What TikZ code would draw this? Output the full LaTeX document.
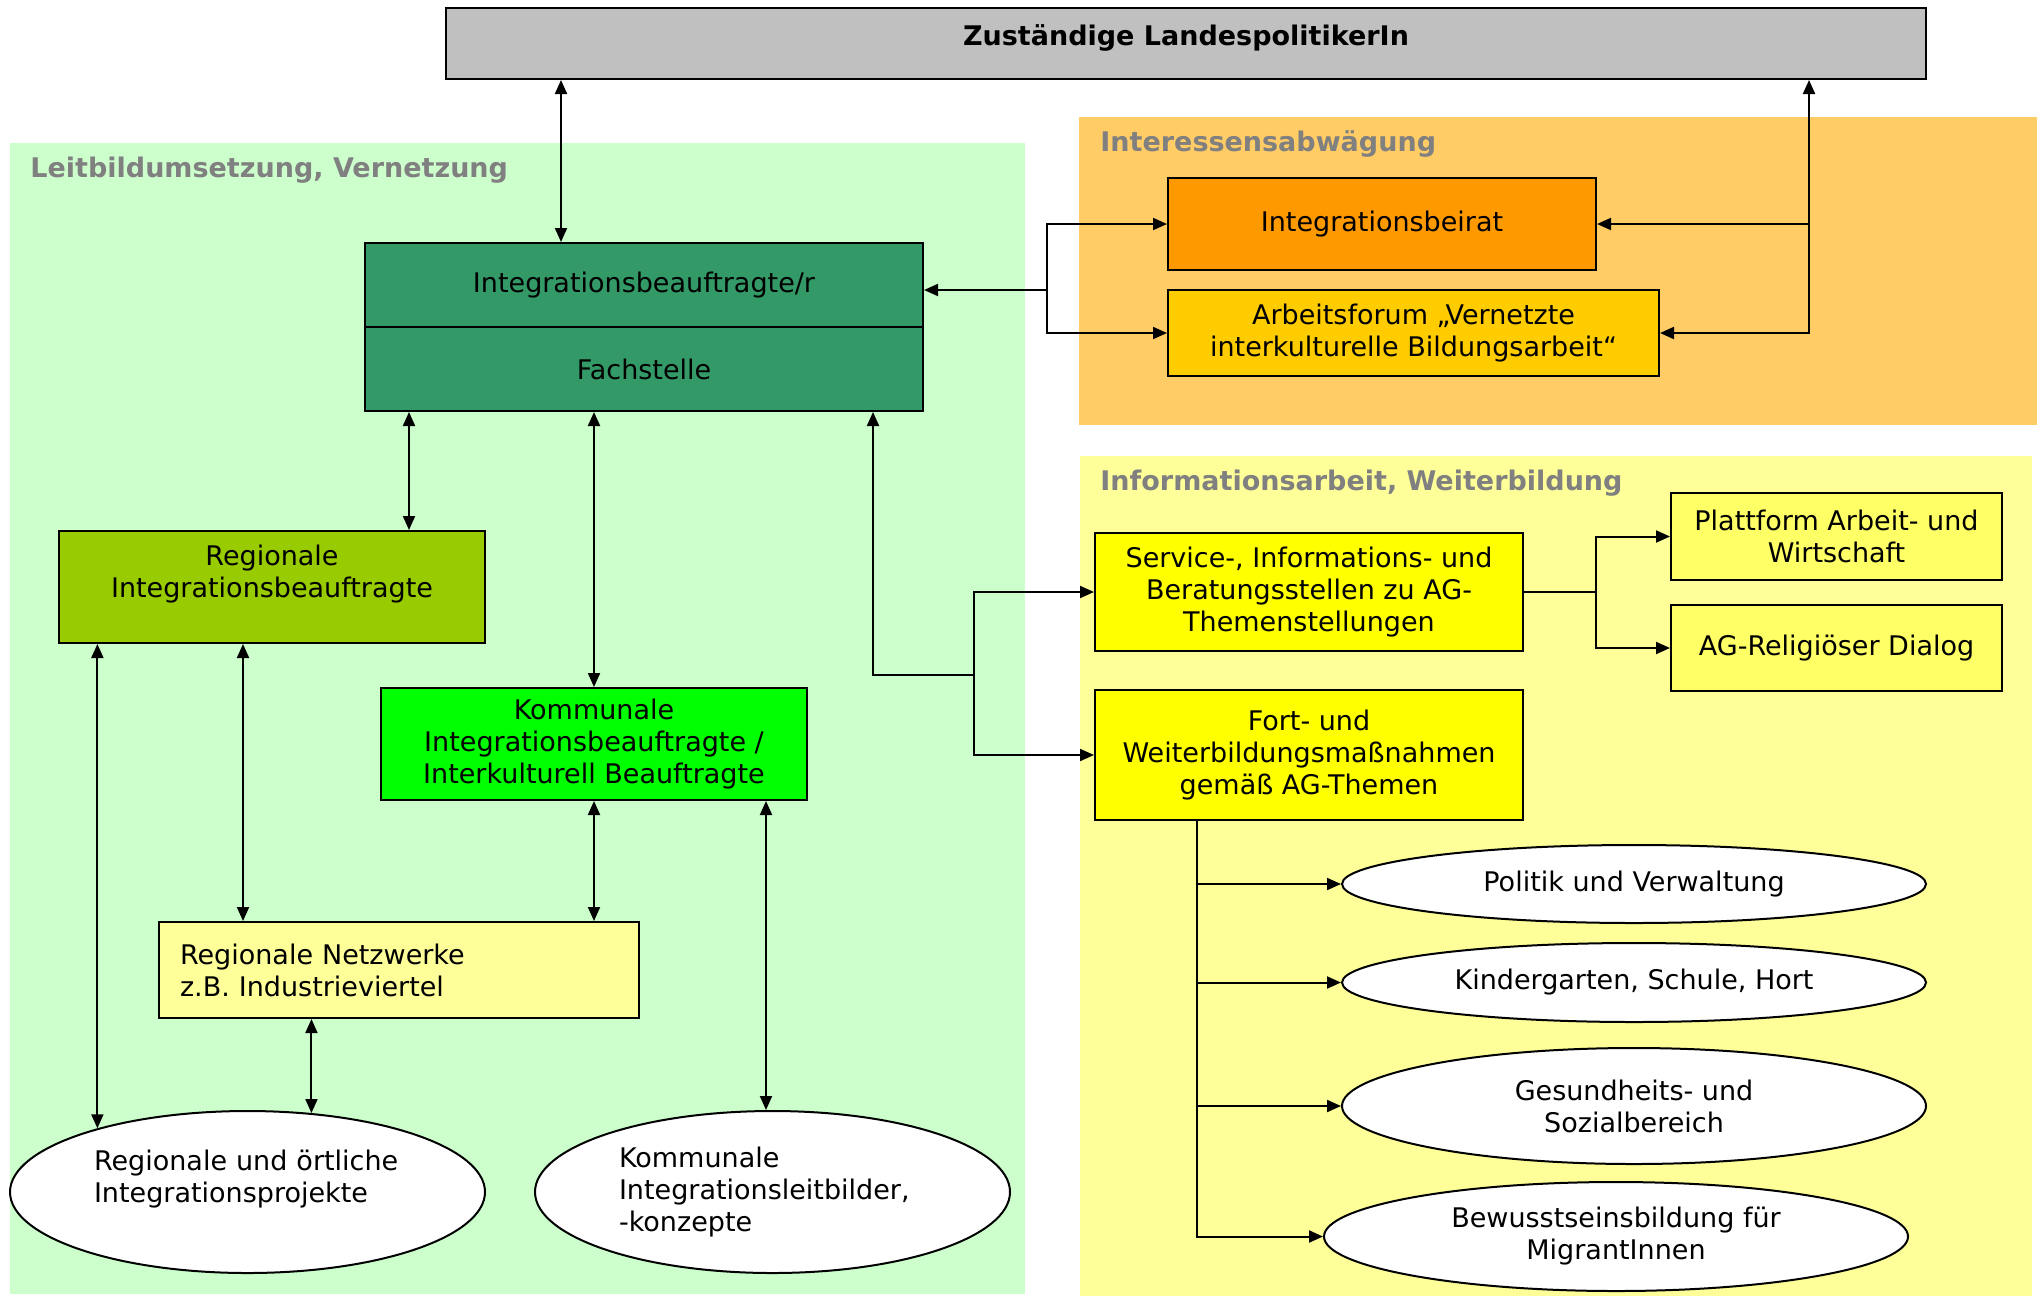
\documentclass[tikz,border=0pt]{standalone}
\usepackage{fontspec}
\setmainfont{DejaVu Sans}
\usepackage{tikz}
\usetikzlibrary{arrows.meta,shapes}
\definecolor{grau}{HTML}{C0C0C0}
\definecolor{titelgrau}{HTML}{808080}
\definecolor{hellgruen}{HTML}{CCFFCC}
\definecolor{dunkelgruen}{HTML}{339966}
\definecolor{olivgruen}{HTML}{99CC00}
\definecolor{knallgruen}{HTML}{00FF00}
\definecolor{hellgelb}{HTML}{FFFF99}
\definecolor{mittelgelb}{HTML}{FFFF66}
\definecolor{gelb}{HTML}{FFFF00}
\definecolor{hellorange}{HTML}{FFCC66}
\definecolor{beiratorange}{HTML}{FF9900}
\definecolor{forumgelb}{HTML}{FFCC00}
\tikzstyle{box} = [rectangle,draw,line width=1pt,inner sep=0pt,align=center,font=\fontsize{13.5}{16}\selectfont]
\tikzstyle{oval} = [ellipse,draw,line width=1pt,fill=white,inner sep=0pt,align=center,font=\fontsize{13.5}{16}\selectfont]
\tikzstyle{areatitle} = [anchor=west,inner sep=0pt,text=titelgrau,font=\bfseries\fontsize{13.5}{16}\selectfont]
\tikzstyle{edge} = [draw,line width=1pt,-{Triangle[length=7pt,width=6pt]}]
\tikzstyle{twowayedge} = [draw,line width=1pt,{Triangle[length=7pt,width=6pt]}-{Triangle[length=7pt,width=6pt]}]
\tikzstyle{plainedge} = [draw,line width=1pt]

\begin{document}
\begin{tikzpicture}[x=0.5pt,y=-0.5pt]
    \useasboundingbox (0,0) rectangle (2037,1296);
    % First we draw the coloured areas and their titles
    \fill[hellgruen] (10,143) rectangle (1025,1294);
    \fill[hellorange] (1079,117) rectangle (2037,425);
    \fill[hellgelb] (1080,456) rectangle (2032,1296);
    \node[areatitle] (leitbildtitel) at (30,170) {Leitbildumsetzung, Vernetzung};
    \node[areatitle] (abwaegungtitel) at (1100,144) {Interessensabwägung};
    \node[areatitle] (infotitel) at (1100,483) {Informationsarbeit, Weiterbildung};

    % Then the boxes
    \node[box,fill=grau,minimum width=740pt,minimum height=35.5pt,text depth=8.5pt,
          font=\bfseries\fontsize{13.5}{16}\selectfont] (landes) at (1186,43.5) {Zuständige LandespolitikerIn};
    \node[box,fill=dunkelgruen,minimum width=279pt,minimum height=42pt] (intb) at (644,285) {Integrationsbeauftragte/r};
    \node[box,fill=dunkelgruen,minimum width=279pt,minimum height=42pt] (fach) at (644,369) {Fachstelle};
    \node[box,fill=olivgruen,minimum width=213pt,minimum height=56pt] (regional) at (272,587) {Regionale\\Integrationsbeauftragte\\ \mbox{}};
    \node[box,fill=knallgruen,minimum width=213pt,minimum height=56pt] (kommunal) at (594,744) {Kommunale\\Integrationsbeauftragte /\\Interkulturell Beauftragte};
    \node[box,fill=hellgelb,align=left,text width=219pt,inner xsep=10.5pt,minimum height=48pt] (netzwerk) at (399,970) {Regionale Netzwerke\\z.B. Industrieviertel};
    \node[oval,align=left,text width=153.5pt,minimum width=237.5pt,minimum height=81pt] (projekte) at (247.5,1192) {Regionale und örtliche\\Integrationsprojekte\\ \mbox{}};
    \node[oval,align=left,text width=153.5pt,minimum width=237.5pt,minimum height=81pt] (leitbilder) at (772.5,1192) {Kommunale\\Integrationsleitbilder,\\-konzepte};

    \node[box,fill=beiratorange,minimum width=214pt,minimum height=46pt] (beirat) at (1382,224) {Integrationsbeirat};
    \node[box,fill=forumgelb,minimum width=245.5pt,minimum height=43pt] (forum) at (1413.5,333) {Arbeitsforum „Vernetzte\\interkulturelle Bildungsarbeit“};

    \node[box,fill=gelb,minimum width=214pt,minimum height=59pt] (service) at (1309,592) {Service-, Informations- und\\Beratungsstellen zu AG-\\Themenstellungen};
    \node[box,fill=gelb,minimum width=214pt,minimum height=65pt] (fort) at (1309,755) {Fort- und\\Weiterbildungsmaßnahmen\\gemäß AG-Themen};
    \node[box,fill=mittelgelb,minimum width=165.5pt,minimum height=43.5pt] (plattform) at (1836.5,536.5) {Plattform Arbeit- und\\Wirtschaft};
    \node[box,fill=mittelgelb,minimum width=165.5pt,minimum height=43pt] (religion) at (1836.5,648) {AG-Religiöser Dialog};

    \foreach \pos/\name/\hoehe/\text in {{(1634,884)/verwaltung/39pt/Politik und Verwaltung},
                                         {(1634,982.5)/kinder/39.5pt/{Kindergarten, Schule, Hort}},
                                         {(1634,1106)/gesund/58pt/Gesundheits- und\\Sozialbereich},
                                         {(1616,1236.5)/bewusst/54.5pt/Bewusstseinsbildung für\\MigrantInnen}}
        \node[oval,minimum width=292pt,minimum height=\hoehe] (\name) at \pos {\text};

    % Junctions of the branching connectors
    \coordinate (jl) at (1047,290);
    \coordinate (jr) at (1809,224);
    \coordinate (jm) at (974,675);
    \coordinate (js) at (1596,592);

    % Connect the boxes
    \draw[twowayedge] (landes.south -| 561,0) -- (intb.north -| 561,0);
    \draw[edge] (jl) -- (jl -| intb.east);
    \draw[edge] (jl) |- (beirat);
    \draw[edge] (jl) |- (forum);
    \draw[edge] (jr) -- (jr |- landes.south);
    \draw[edge] (jr) -- (beirat);
    \draw[edge] (jr) |- (forum);

    \draw[twowayedge] (fach.south -| 409,0) -- (regional.north -| 409,0);
    \draw[twowayedge] (fach.south -| kommunal.north) -- (kommunal.north);
    \draw[edge] (jm) -| (fach.south -| 873,0);
    \draw[edge] (jm) |- (service);
    \draw[edge] (jm) |- (fort);

    \draw[twowayedge] (regional.south -| 243,0) -- (netzwerk.north -| 243,0);
    \draw[twowayedge] (regional.south -| projekte.157.6) -- (projekte.157.6);
    \draw[twowayedge] (kommunal.south) -- (netzwerk.north -| kommunal.south);
    \draw[twowayedge] (netzwerk.south -| projekte.51) -- (projekte.51);
    \draw[twowayedge] (kommunal.south -| 766,0) -- (leitbilder.north -| 766,0);

    \draw[plainedge] (service) -- (js);
    \draw[edge] (js) |- (plattform);
    \draw[edge] (js) |- (religion);
    \foreach \ziel in {verwaltung,kinder,gesund,bewusst}
        \draw[edge] (fort.south -| 1197,0) |- (\ziel);
\end{tikzpicture}
\end{document}
